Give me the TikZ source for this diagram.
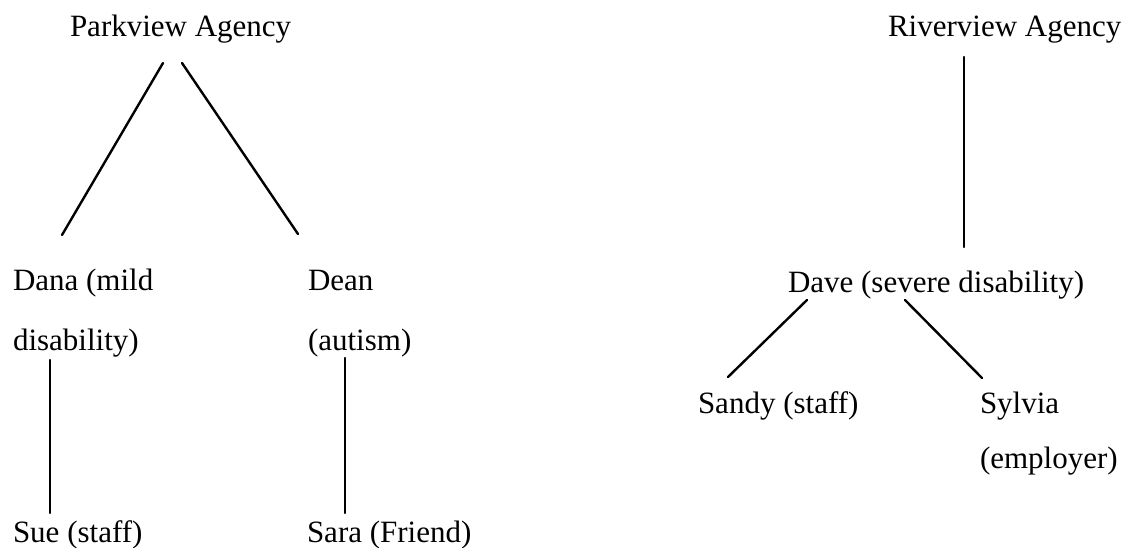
\documentclass[tikz,border=0pt]{standalone}
\usepackage{fontspec}
\setmainfont{Liberation Serif}
\begin{document}
\begin{tikzpicture}[x=1pt,y=-1pt,
  lbl/.style={anchor=base west,inner sep=0pt,outer sep=0pt,font=\fontsize{31}{36}\selectfont},
  link/.style={line width=2.4pt,line cap=round}]
\useasboundingbox (0,0) rectangle (1128,547);
% labels
\node[lbl] (park) at (70,36) {Parkview Agency};
\node[lbl] (river) at (888,36) {Riverview Agency};
\node[lbl] (dana1) at (13,290) {Dana (mild};
\node[lbl] (dana2) at (13,350) {disability)};
\node[lbl] (dean1) at (308,290) {Dean};
\node[lbl] (dean2) at (308,350) {(autism)};
\node[lbl] (sue) at (13,542) {Sue (staff)};
\node[lbl] (sara) at (307,542) {Sara (Friend)};
\node[lbl] (dave) at (788,292) {Dave (severe disability)};
\node[lbl] (sandy) at (698,413) {Sandy (staff)};
\node[lbl] (sylvia1) at (980,413) {Sylvia};
\node[lbl] (sylvia2) at (980,468) {(employer)};
% connector end points
\coordinate (parkL) at (163,63);
\coordinate (parkR) at (182,63);
\coordinate (danaT) at (62,235);
\coordinate (deanT) at (298,234);
\coordinate (danaB) at (50,360);
\coordinate (sueT) at (50,513);
\coordinate (deanB) at (345,358);
\coordinate (saraT) at (345,513);
\coordinate (riverB) at (964,57);
\coordinate (daveT) at (964,247);
\coordinate (daveL) at (807,300);
\coordinate (daveR) at (905,300);
\coordinate (sandyT) at (728,377);
\coordinate (sylviaT) at (982,378);
% connectors
\draw[link] (parkL) -- (danaT);
\draw[link] (parkR) -- (deanT);
\draw[link] (danaB) -- (sueT);
\draw[link] (deanB) -- (saraT);
\draw[link] (riverB) -- (daveT);
\draw[link] (daveL) -- (sandyT);
\draw[link] (daveR) -- (sylviaT);
\end{tikzpicture}
\end{document}
